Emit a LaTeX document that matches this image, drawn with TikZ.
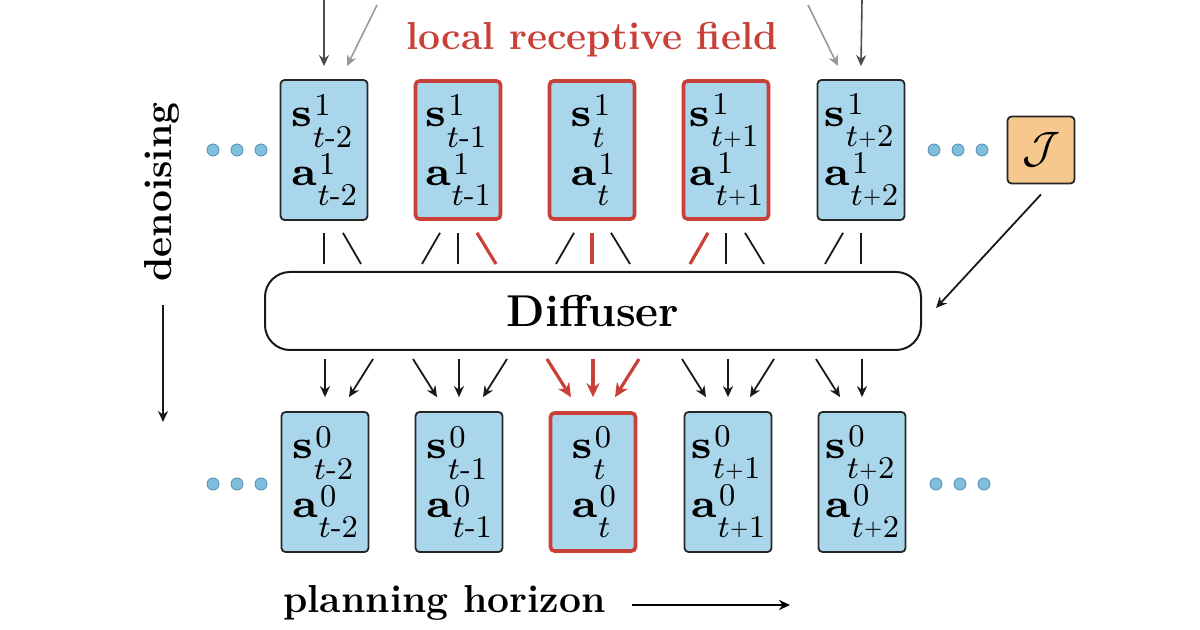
\RequirePackage{fix-cm}
\documentclass[tikz,border=0pt]{standalone}
\usetikzlibrary{arrows.meta,calc}
\definecolor{rcf}{RGB}{200,64,56}
\definecolor{boxblue}{RGB}{169,214,234}
\definecolor{jorange}{RGB}{246,200,142}
\definecolor{dotblue}{RGB}{128,190,222}
\definecolor{dotedge}{RGB}{80,140,180}
% script stack: superscript #1 over subscript #2
\newcommand\scrstack[2]{\setbox0\hbox{\fontsize{8.5}{9}\selectfont #1}%
  \setbox2\hbox{\fontsize{8.5}{9}\selectfont #2}%
  \ifdim\wd0>\wd2 \wd2=\wd0 \fi
  \kern0.7pt\rlap{\raisebox{3.1pt}{\box0}}\kern-0.4pt\raisebox{-5.4pt}{\box2}}
\newcommand\bigbf[1]{\scalebox{1.56}{\fontsize{7}{8}\selectfont$\mathbf{#1}$}}
\newcommand\mnus{\hbox{\fontsize{8.5}{9}\selectfont -}}
\newcommand\plus{\raisebox{0.6pt}{\fontsize{5}{5}\selectfont +}}
\newcommand\sapair[2]{\scalebox{1.86}{\fontsize{10}{12}\selectfont
  \begin{tabular}{@{}l@{}}\bigbf{s}\scrstack{#1}{#2}\\[3.4pt]\bigbf{a}\scrstack{#1}{#2}\end{tabular}}}
\begin{document}
\begin{tikzpicture}[x=0.5pt,y=-0.5pt,
  sabox/.style={draw=black!85, line width=0.9pt, fill=boxblue, rounded corners=2pt,
    minimum width=43.5pt, minimum height=70pt, inner sep=0pt},
  hlbox/.style={sabox, draw=rcf, line width=1.8pt, minimum width=42.5pt, minimum height=69pt},
  conn/.style={line width=0.9pt, black!90},
  rconn/.style={line width=1.6pt, rcf},
  tip/.style={-{Stealth[length=5.5pt,width=5pt]}},
  rtip/.style={-{Stealth[length=7pt,width=6.5pt]}},
  lbl/.style={font=\fontsize{19.5}{23}\selectfont\bfseries},
  dot/.style={circle, fill=dotblue, draw=dotedge, line width=0.4pt, minimum size=6pt, inner sep=0pt}
]
\useasboundingbox (0,0) rectangle (1200,630);

% top row (noisy, level 1)
\node[sabox] (t1) at (324,150) {\sapair{1}{$t$\mnus2}};
\node[hlbox] (t2) at (458,150) {\sapair{1}{$t$\mnus1}};
\node[hlbox] (t3) at (592,150) {\sapair{1}{$t$}};
\node[hlbox] (t4) at (726,150) {\sapair{1}{$t$\plus1}};
\node[sabox] (t5) at (861,150) {\sapair{1}{$t$\plus2}};

% bottom row (level 0)
\node[sabox] (b1) at (325,482) {\sapair{0}{$t$\mnus2}};
\node[sabox] (b2) at (459,482) {\sapair{0}{$t$\mnus1}};
\node[hlbox] (b3) at (593,482) {\sapair{0}{$t$}};
\node[sabox] (b4) at (728,482) {\sapair{0}{$t$\plus1}};
\node[sabox] (b5) at (862,482) {\sapair{0}{$t$\plus2}};

% diffuser
\node[draw=black!90, line width=1pt, rounded corners=12.5pt, minimum width=328pt,
  minimum height=39pt, fill=white, font=\fontsize{22.3}{26}\selectfont\bfseries] (D) at (593,311) {Diffuser};

% J
\node[draw=black!85, line width=0.9pt, fill=jorange, rounded corners=2pt, minimum size=33.5pt,
  inner sep=0pt, font=\fontsize{22}{26}\selectfont] (J) at (1041,150) {$\mathcal{J}$};
\draw[conn, tip] ($(J.south)+(0,10)$) -- ($(D.east)+(14,-3)$);

% dots
\foreach \xx/\yy [count=\i] in {213/150,237/150,261/150,934/150,958/150,982/150,213/484,237/484,261/484,936/484,960/484,984/484}
  \node[dot] (d\i) at (\xx,\yy) {};

% incoming arrows at top
\coordinate (in1a) at (324,0);
\coordinate (in1b) at (377,5);
\coordinate (in5a) at (862,0);
\coordinate (in5b) at (808,5);
\draw[line width=0.8pt, black!70, tip] (in1a) -- ($(t1.north)+(0,-13)$);
\draw[line width=0.8pt, black!40, tip] (in1b) -- ($(t1.north)+(23,-13)$);
\draw[line width=0.8pt, black!40, tip] (in5b) -- ($(t5.north)+(-23,-13)$);
\draw[line width=0.8pt, black!70, tip] (in5a) -- ($(t5.north)+(0,-13)$);

% segments from top row into diffuser
\draw[conn]  ($(t1.south)+(0,12)$)   -- ($(D.north -| t1.south)+(0,-7)$);
\draw[conn]  ($(t1.south)+(19,12)$)  -- ($(D.north -| t1.south)+(37,-7)$);
\draw[conn]  ($(t2.south)+(-18,12)$) -- ($(D.north -| t2.south)+(-36,-7)$);
\draw[conn]  ($(t2.south)+(0,12)$)   -- ($(D.north -| t2.south)+(0,-7)$);
\draw[rconn] ($(t2.south)+(19,12)$)  -- ($(D.north -| t2.south)+(38,-7)$);
\draw[conn]  ($(t3.south)+(-18,12)$) -- ($(D.north -| t3.south)+(-36,-7)$);
\draw[rconn] ($(t3.south)+(0,12)$)   -- ($(D.north -| t3.south)+(0,-7)$);
\draw[conn]  ($(t3.south)+(19,12)$)  -- ($(D.north -| t3.south)+(38,-7)$);
\draw[rconn] ($(t4.south)+(-18,12)$) -- ($(D.north -| t4.south)+(-36,-7)$);
\draw[conn]  ($(t4.south)+(0,12)$)   -- ($(D.north -| t4.south)+(0,-7)$);
\draw[conn]  ($(t4.south)+(19,12)$)  -- ($(D.north -| t4.south)+(38,-7)$);
\draw[conn]  ($(t5.south)+(-18,12)$) -- ($(D.north -| t5.south)+(-36,-7)$);
\draw[conn]  ($(t5.south)+(0,12)$)   -- ($(D.north -| t5.south)+(0,-7)$);

% arrows from diffuser to bottom row
\draw[conn, tip]  ($(D.south -| b1.north)+(0,8)$)   -- ($(b1.north)+(0,-14)$);
\draw[conn, tip]  ($(D.south -| b1.north)+(48,8)$)  -- ($(b1.north)+(24,-14)$);
\draw[conn, tip]  ($(D.south -| b2.north)+(-46,8)$) -- ($(b2.north)+(-22,-14)$);
\draw[conn, tip]  ($(D.south -| b2.north)+(0,8)$)   -- ($(b2.north)+(0,-14)$);
\draw[conn, tip]  ($(D.south -| b2.north)+(48,8)$)  -- ($(b2.north)+(24,-14)$);
\draw[rconn, rtip] ($(D.south -| b3.north)+(-46,8)$) -- ($(b3.north)+(-22,-14)$);
\draw[rconn, rtip] ($(D.south -| b3.north)+(0,8)$)   -- ($(b3.north)+(0,-14)$);
\draw[rconn, rtip] ($(D.south -| b3.north)+(46,8)$)  -- ($(b3.north)+(22,-14)$);
\draw[conn, tip]  ($(D.south -| b4.north)+(-46,8)$) -- ($(b4.north)+(-22,-14)$);
\draw[conn, tip]  ($(D.south -| b4.north)+(0,8)$)   -- ($(b4.north)+(0,-14)$);
\draw[conn, tip]  ($(D.south -| b4.north)+(46,8)$)  -- ($(b4.north)+(22,-14)$);
\draw[conn, tip]  ($(D.south -| b5.north)+(-46,8)$) -- ($(b5.north)+(-22,-14)$);
\draw[conn, tip]  ($(D.south -| b5.north)+(0,8)$)   -- ($(b5.north)+(0,-14)$);

% labels
\node[lbl, text=rcf] (lrf) at (592,40) {local receptive field};
\node[lbl, rotate=90] (den) at (162,192) {denoising};
\coordinate (denA) at (163,305);
\coordinate (denB) at (163,422);
\draw[conn, tip] (denA) -- (denB);
\node[lbl, anchor=base west, inner sep=0pt] (ph) at (283,612) {planning horizon};
\coordinate (phA) at (632,605);
\coordinate (phB) at (790,605);
\draw[line width=1pt, tip] (phA) -- (phB);
\end{tikzpicture}
\end{document}
